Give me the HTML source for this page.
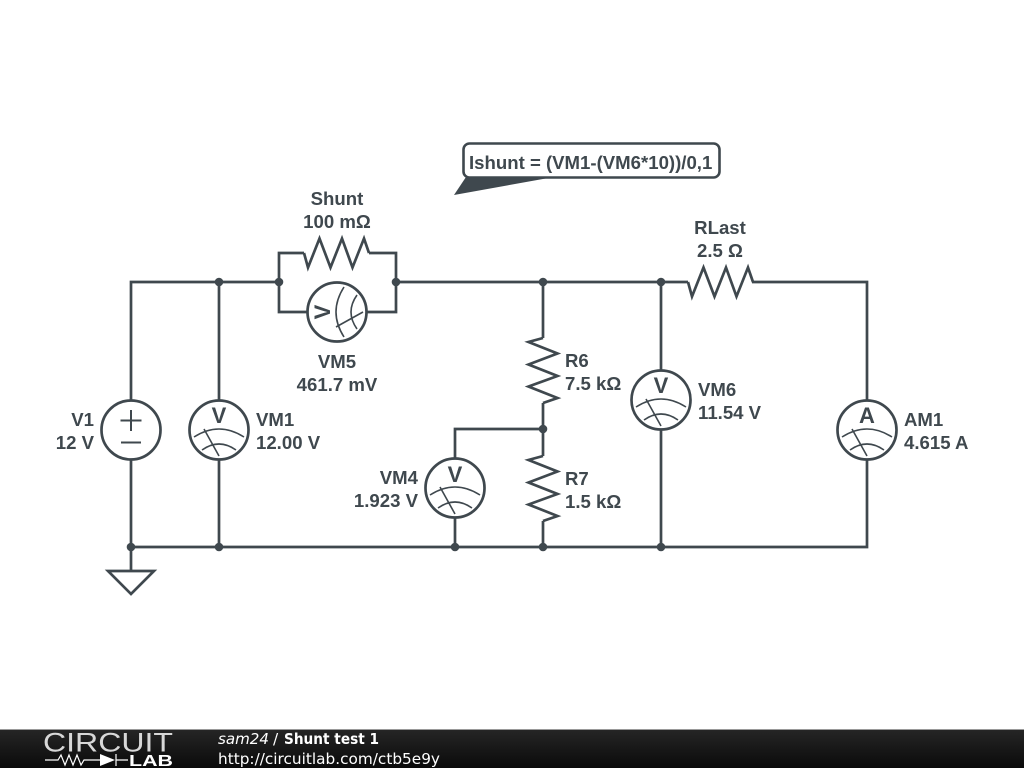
<!DOCTYPE html>
<html><head><meta charset="utf-8"><style>
html,body{margin:0;padding:0;background:#fff;width:1024px;height:768px;overflow:hidden}
svg{display:block}
.w{fill:none;stroke:#3f484e;stroke-width:2.7;stroke-linejoin:miter}
.t{font:bold 18.6px "Liberation Sans",sans-serif;fill:#3f484e}
.l{font:bold 22px "Liberation Sans",sans-serif;fill:#3f484e;text-anchor:middle}
.f{font-family:"DejaVu Sans",sans-serif;font-size:15.3px;fill:#fff}
</style></head><body>
<svg width="1024" height="768" viewBox="0 0 1024 768" xmlns="http://www.w3.org/2000/svg">
<defs>
<linearGradient id="b" x1="0" y1="0" x2="0" y2="1"><stop offset="0" stop-color="#262626"/><stop offset="1" stop-color="#0a0a0a"/></linearGradient>
<polyline id="r" class="w" points="0,0 4,14.5 15.5,-14.5 26.5,14.5 38,-14.5 48.5,14.5 60,-14.5 65,0"/>
<g id="m">
<circle r="29.5" fill="#fff" stroke="#3f484e" stroke-width="2.7"/>
<path d="M-25,7Q0,-9 25,7M-17,20Q0,8 17,20M-15,-1L0,26" fill="none" stroke="#3f484e" stroke-width="1.6"/>
</g>
</defs>
<g class="w">
<path class="w" d="M131,400V282H279M219,282V400M131,460V570M219,460V547M131,547H867V282H752M279,282V253H304M369,253H396V312H367M279,282V312H307M396,282H688M543,282V338M543,403V456M543,521V547M455,459V429H543M455,518V547M661,282V370M661,430V547M867,400V282M867,460V547"/>
<polygon class="w" points="108,571 154,571 131,594"/>
</g>
<use href="#r" x="304" y="253"/>
<use href="#r" x="688" y="282"/>
<use href="#r" transform="translate(543,338) rotate(90)"/>
<use href="#r" transform="translate(543,456) rotate(90)"/>
<g fill="#3f484e">
<circle cx="219" cy="282" r="4.3"/><circle cx="279" cy="282" r="4.3"/><circle cx="396" cy="282" r="4.3"/><circle cx="543" cy="282" r="4.3"/><circle cx="661" cy="282" r="4.3"/>
<circle cx="543" cy="429" r="4.3"/><circle cx="131" cy="547" r="4.3"/><circle cx="219" cy="547" r="4.3"/><circle cx="455" cy="547" r="4.3"/><circle cx="543" cy="547" r="4.3"/><circle cx="661" cy="547" r="4.3"/>
</g>
<circle cx="131" cy="430" r="29.5" fill="#fff" stroke="#3f484e" stroke-width="2.7"/>
<path d="M131,410V431M120.500,420.500H141.500M121,442.500H141" fill="none" stroke="#3f484e" stroke-width="2"/>
<use href="#m" x="219" y="430"/><text class="l" x="219" y="423">V</text>
<use href="#m" x="455" y="488"/><text class="l" x="455" y="482">V</text>
<use href="#m" x="661" y="400"/><text class="l" x="661" y="393">V</text>
<use href="#m" x="867" y="430"/><text class="l" x="867" y="423">A</text>
<use href="#m" transform="translate(337,312) rotate(-90)"/><text class="l" transform="translate(323,312) rotate(-90)" y="7">V</text>
<g class="t">
<text x="337" y="205" text-anchor="middle">Shunt</text><text x="337" y="228" text-anchor="middle">100 mΩ</text>
<text x="720" y="234" text-anchor="middle">RLast</text><text x="720" y="257" text-anchor="middle">2.5 Ω</text>
<text x="337" y="368" text-anchor="middle">VM5</text><text x="337" y="391" text-anchor="middle">461.7 mV</text>
<text x="94" y="426" text-anchor="end">V1</text><text x="94" y="449" text-anchor="end">12 V</text>
<text x="256" y="426">VM1</text><text x="256" y="449">12.00 V</text>
<text x="565" y="367">R6</text><text x="565" y="390">7.5 kΩ</text>
<text x="565" y="485">R7</text><text x="565" y="508">1.5 kΩ</text>
<text x="418" y="484" text-anchor="end">VM4</text><text x="418" y="507" text-anchor="end">1.923 V</text>
<text x="698" y="396">VM6</text><text x="698" y="419">11.54 V</text>
<text x="904" y="426">AM1</text><text x="904" y="449">4.615 A</text>
</g>
<polygon points="466,177 454,195 554,177" fill="#3f484e"/>
<rect x="463.500" y="143.500" width="256" height="34" rx="6" fill="#fff" stroke="#3f484e" stroke-width="2.6"/>
<text class="t" x="469" y="169">Ishunt = (VM1-(VM6*10))/0,1</text>
<rect x="0" y="729" width="1024" height="39" fill="url(#b)"/>
<rect x="0" y="729" width="1024" height="1" fill="#999"/>
<text x="43" y="751.500" style="font:26.500px 'Liberation Sans',sans-serif" fill="#d8d8d8" textLength="130" lengthAdjust="spacingAndGlyphs">CIRCUIT</text>
<path d="M45,760H58L61,755 65,765 69,755 73,765 77,755 81,765 84,760H100M116,760H128M116,754V766" fill="none" stroke="#fff" stroke-width="1.2"/>
<polygon points="100,754 100,766 115,760" fill="#fff"/>
<text x="129" y="766" style="font:bold 15.500px 'Liberation Sans',sans-serif" fill="#fff" textLength="44" lengthAdjust="spacingAndGlyphs">LAB</text>
<text class="f" x="218" y="744" style="font-style:italic" textLength="51" lengthAdjust="spacingAndGlyphs">sam24</text>
<text class="f" x="273" y="744">/</text>
<text class="f" x="284" y="744" style="font-weight:bold" textLength="95" lengthAdjust="spacingAndGlyphs">Shunt test 1</text>
<text class="f" x="218" y="764" textLength="222" lengthAdjust="spacingAndGlyphs">http://circuitlab.com/ctb5e9y</text>
</svg>
</body></html>
